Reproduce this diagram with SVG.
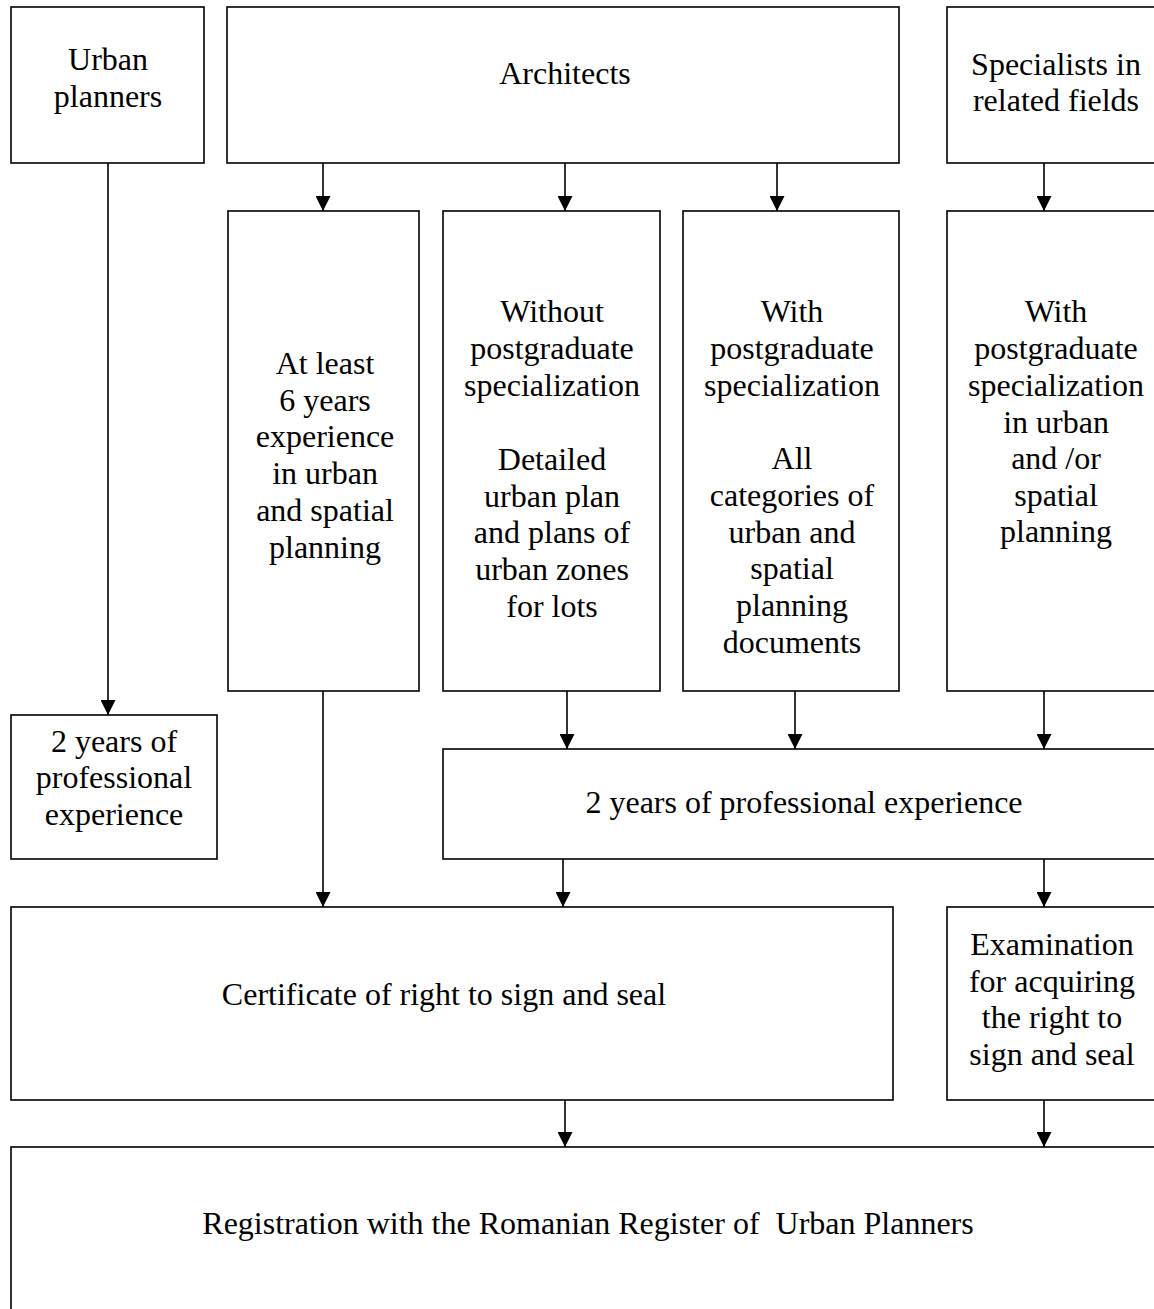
<svg xmlns="http://www.w3.org/2000/svg" width="1154" height="1309" viewBox="0 0 1154 1309">
<style>
rect.box{fill:#fff;stroke:#000;stroke-width:1.6}
text{font-family:"Liberation Serif","Times New Roman",serif;font-size:32px;fill:#000;text-anchor:middle}
.conn line{stroke:#000;stroke-width:1.6;marker-end:url(#arr)}
</style>
<defs>
<marker id="arr" markerUnits="userSpaceOnUse" viewBox="0 0 15 15" refX="15" refY="7.5" markerWidth="15" markerHeight="15" orient="auto">
<path d="M0,0 L15,7.5 L0,15 z" fill="#000"/>
</marker>
</defs>
<rect width="1154" height="1309" fill="#fff"/>
<g id="urban-planners"><rect class="box" x="11" y="7" width="193" height="156"/>
<text x="108" y="70">Urban</text><text x="108" y="107">planners</text></g>
<g id="architects"><rect class="box" x="227" y="7" width="672" height="156"/>
<text x="565" y="84">Architects</text></g>
<g id="specialists"><rect class="box" x="947" y="7" width="220" height="156"/>
<text x="1056" y="75">Specialists in</text><text x="1056" y="111">related fields</text></g>
<g id="at-least"><rect class="box" x="228" y="211" width="191" height="480"/>
<text x="325" y="374">At least</text><text x="325" y="411">6 years</text><text x="325" y="447">experience</text><text x="325" y="484">in urban</text><text x="325" y="521">and spatial</text><text x="325" y="558">planning</text></g>
<g id="without"><rect class="box" x="443" y="211" width="217" height="480"/>
<text x="552" y="322">Without</text><text x="552" y="359">postgraduate</text><text x="552" y="396">specialization</text><text x="552" y="470">Detailed</text><text x="552" y="507">urban plan</text><text x="552" y="543">and plans of</text><text x="552" y="580">urban zones</text><text x="552" y="617">for lots</text></g>
<g id="with"><rect class="box" x="683" y="211" width="216" height="480"/>
<text x="792" y="322">With</text><text x="792" y="359">postgraduate</text><text x="792" y="396">specialization</text><text x="792" y="469">All</text><text x="792" y="506">categories of</text><text x="792" y="543">urban and</text><text x="792" y="579">spatial</text><text x="792" y="616">planning</text><text x="792" y="653">documents</text></g>
<g id="with-urban"><rect class="box" x="947" y="211" width="220" height="480"/>
<text x="1056" y="322">With</text><text x="1056" y="359">postgraduate</text><text x="1056" y="396">specialization</text><text x="1056" y="433">in urban</text><text x="1056" y="469">and /or</text><text x="1056" y="506">spatial</text><text x="1056" y="542">planning</text></g>
<g id="two-years-left"><rect class="box" x="11" y="715" width="206" height="144"/>
<text x="114" y="752">2 years of</text><text x="114" y="788">professional</text><text x="114" y="825">experience</text></g>
<g id="two-years-wide"><rect class="box" x="443" y="749" width="724" height="110"/>
<text x="804" y="813">2 years of professional experience</text></g>
<g id="certificate"><rect class="box" x="11" y="907" width="882" height="193"/>
<text x="444" y="1005">Certificate of right to sign and seal</text></g>
<g id="examination"><rect class="box" x="947" y="907" width="220" height="193"/>
<text x="1052" y="955">Examination</text><text x="1052" y="992">for acquiring</text><text x="1052" y="1028">the right to</text><text x="1052" y="1065">sign and seal</text></g>
<g id="registration"><rect class="box" x="11" y="1147" width="1156" height="170"/>
<text x="588" y="1234" xml:space="preserve">Registration with the Romanian Register of  Urban Planners</text></g>
<g class="conn" id="connectors">
<line x1="108" y1="163" x2="108" y2="715"/>
<line x1="323" y1="163" x2="323" y2="211"/>
<line x1="565" y1="163" x2="565" y2="211"/>
<line x1="777" y1="163" x2="777" y2="211"/>
<line x1="1044" y1="163" x2="1044" y2="211"/>
<line x1="323" y1="691" x2="323" y2="907"/>
<line x1="567" y1="691" x2="567" y2="749"/>
<line x1="795" y1="691" x2="795" y2="749"/>
<line x1="1044" y1="691" x2="1044" y2="749"/>
<line x1="563" y1="859" x2="563" y2="907"/>
<line x1="1044" y1="859" x2="1044" y2="907"/>
<line x1="565" y1="1100" x2="565" y2="1147"/>
<line x1="1044" y1="1100" x2="1044" y2="1147"/>
</g>
</svg>
